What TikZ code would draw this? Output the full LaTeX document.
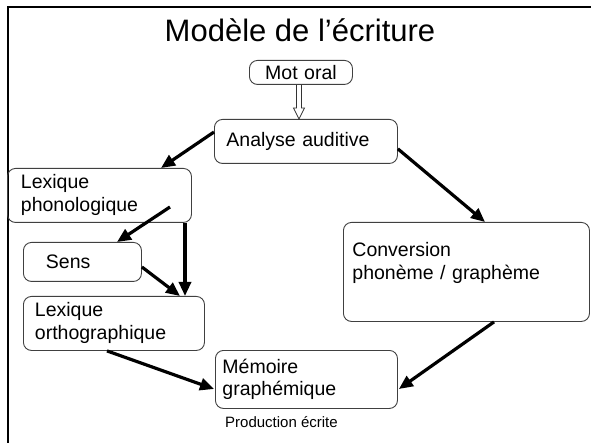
\documentclass[tikz,border=0pt]{standalone}
\usepackage{fontspec}
\setmainfont{Liberation Sans}
\usetikzlibrary{arrows.meta,calc}

\tikzset{
  box/.style={draw=black!75, line width=0.9pt, rounded corners=8pt,
    anchor=north west, align=left, inner ysep=0pt,
    font=\fontsize{19.5}{23}\selectfont},
  flow/.style={line width=3.2pt, -{Triangle[length=14pt,width=12pt]}},
  hollow/.style={draw=black!80, line width=0.8pt, line join=miter},
}

\begin{document}
\begin{tikzpicture}[x=1pt,y=-1pt]
  \path[use as bounding box, clip] (0,0) rectangle (591,443);
  \fill[white] (0,0) rectangle (591,443);
  % outer frame
  \draw[line width=1.2pt] (8,7) rectangle (640,480);

  % title
  \node[anchor=base, inner sep=0pt, font=\fontsize{31}{36}\selectfont] (title) at (300,42) {Modèle de l’écriture};

  % boxes
  \node[box, align=center, inner xsep=4pt, text width=95pt, minimum height=24pt] (mot) at (249,60) {Mot oral};
  \node[box, inner xsep=12pt, text width=159pt, minimum height=44pt] (ana) at (214,119) {Analyse auditive};
  \node[box, inner xsep=13.5pt, text width=157pt, minimum height=54pt] (phono) at (7,168) {Lexique\\phonologique};
  \node[box, inner xsep=22.5pt, text width=73pt, minimum height=39pt] (sens) at (23,242) {Sens};
  \node[box, inner xsep=11.5pt, text width=158pt, minimum height=54pt] (ortho) at (23,296) {Lexique\\orthographique};
  \node[box, inner xsep=7pt, text width=168pt, minimum height=58pt, font=\fontsize{19.5}{22}\selectfont] (mem) at (215,350) {Mémoire\\graphémique};
  \node[box, inner xsep=9pt, text width=228pt, minimum height=99pt] (conv) at (343,222) {Conversion\\phonème / graphème\\~};

  % caption under the last box
  \node[anchor=base west, inner sep=0pt, font=\fontsize{15}{18}\selectfont] (prod) at (225,427) {Production écrite};

  % hollow double arrow from the spoken word to auditory analysis
  \coordinate (dtop) at ($(mot.south)+(-2,0)$);
  \coordinate (dtip) at (dtop |- ana.north);
  \draw[hollow] ($(dtop)+(-2.5,0)$) -- ($(dtip)+(-2.5,-11)$) -- ($(dtip)+(-5.5,-11)$)
     -- (dtip) -- ($(dtip)+(5.5,-11)$) -- ($(dtip)+(2.5,-11)$) -- ($(dtop)+(2.5,0)$);

  % thick flow arrows
  \draw[flow] ($(ana.north west)+(0,13)$) -- ($(phono.north west)+(154,0)$);
  \draw[flow] ($(ana.south east)+(0,-15)$) -- ($(conv.north west)+(142,0)$);
  \draw[flow] ($(phono.north west)+(163,39)$) -- ($(sens.north west)+(94,0)$);
  \draw[flow] ($(phono.south west)+(178,0)$) -- ($(ortho.north west)+(162,0)$);
  \draw[flow] ($(sens.north east)+(0,25)$) -- ($(ortho.north west)+(157,0)$);
  \draw[flow] ($(ortho.south west)+(84,0)$) -- ($(mem.north west)+(-1,39)$);
  \draw[flow] ($(conv.south west)+(151,0)$) -- ($(mem.north east)+(1,39)$);
\end{tikzpicture}
\end{document}
